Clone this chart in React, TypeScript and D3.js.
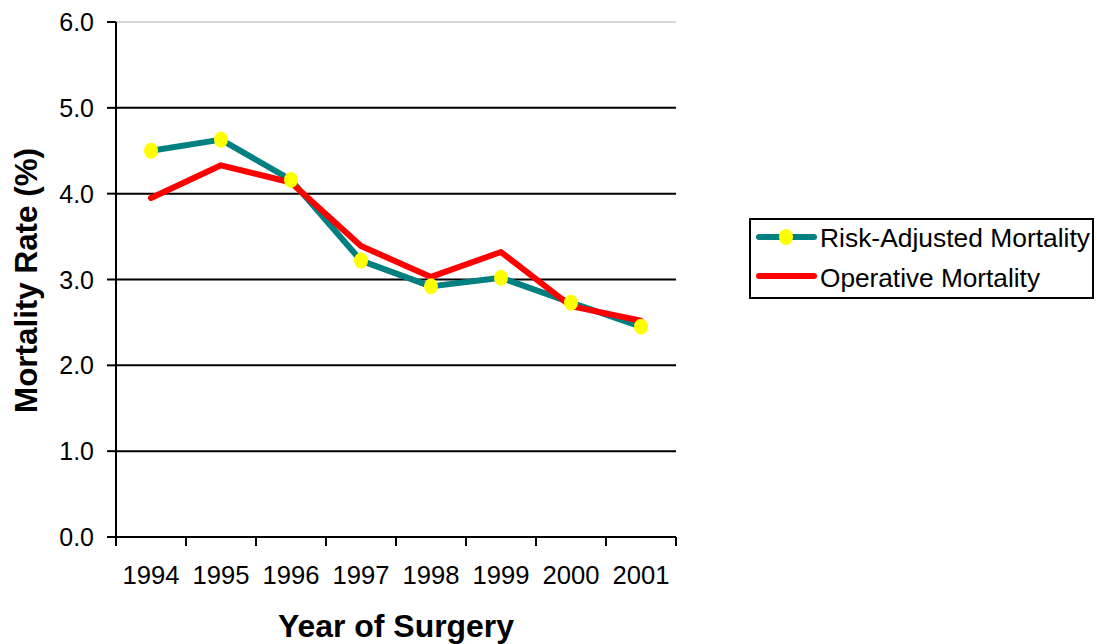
import * as d3 from "d3";

const years = ["1994", "1995", "1996", "1997", "1998", "1999", "2000", "2001"];
const riskAdjusted = [4.5, 4.63, 4.16, 3.22, 2.92, 3.02, 2.73, 2.45];
const operative = [3.95, 4.33, 4.13, 3.39, 3.03, 3.32, 2.69, 2.52];
const yTicks = [0, 1, 2, 3, 4, 5, 6];

export default function App() {
  const width = 1097;
  const height = 644;
  const margin = { top: 22, right: 421, bottom: 107, left: 116 };

  const x = d3
    .scaleBand()
    .domain(years)
    .range([margin.left, width - margin.right]);

  const y = d3
    .scaleLinear()
    .domain([0, 6])
    .range([height - margin.bottom, margin.top]);

  const cx = (yr: string) => x(yr)! + x.bandwidth() / 2;

  const line = d3
    .line<number>()
    .x((_, i) => cx(years[i]))
    .y((d) => y(d));

  const x0 = margin.left;
  const x1 = width - margin.right;
  const yBase = y(0);
  const font = "'Liberation Sans', Arial, sans-serif";

  return (
    <svg
      width={width}
      height={height}
      style={{ position: "absolute", left: 0, top: 0, background: "#fff" }}
    >
      {/* grid */}
      {yTicks.slice(1).map((t) => (
        <line
          key={t}
          x1={x0}
          x2={x1}
          y1={y(t)}
          y2={y(t)}
          stroke={t === 6 ? "#c8c8c8" : "#000"}
          strokeWidth={t === 6 ? 1.5 : 2}
        />
      ))}

      {/* y axis */}
      <line x1={x0} x2={x0} y1={y(6)} y2={yBase} stroke="#000" strokeWidth={2} />
      {yTicks.map((t) => (
        <g key={t}>
          <line x1={x0 - 9} x2={x0} y1={y(t)} y2={y(t)} stroke="#000" strokeWidth={2} />
          <text
            x={94}
            y={y(t)}
            dy="0.36em"
            textAnchor="end"
            fontFamily={font}
            fontSize={25}
          >
            {t.toFixed(1)}
          </text>
        </g>
      ))}

      {/* x axis */}
      <line x1={x0} x2={x1} y1={yBase} y2={yBase} stroke="#000" strokeWidth={2} />
      {[...years.map((yr) => x(yr)!), x1].map((px, i) => (
        <line key={i} x1={px} x2={px} y1={yBase} y2={yBase + 9} stroke="#000" strokeWidth={2} />
      ))}
      {years.map((yr) => (
        <text
          key={yr}
          x={cx(yr)}
          y={584}
          textAnchor="middle"
          fontFamily={font}
          fontSize={26}
          textLength={57}
          lengthAdjust="spacingAndGlyphs"
        >
          {yr}
        </text>
      ))}

      {/* titles */}
      <text
        x={396}
        y={637}
        textAnchor="middle"
        fontFamily={font}
        fontSize={32}
        fontWeight="bold"
        textLength={236}
        lengthAdjust="spacingAndGlyphs"
      >
        Year of Surgery
      </text>
      <text
        transform={`translate(37,280.5) rotate(-90)`}
        textAnchor="middle"
        fontFamily={font}
        fontSize={32}
        fontWeight="bold"
        textLength={265}
        lengthAdjust="spacingAndGlyphs"
      >
        Mortality Rate (%)
      </text>

      {/* series */}
      <path d={line(riskAdjusted)!} fill="none" stroke="#008080" strokeWidth={6} strokeLinejoin="round" />
      <path
        d={line(operative)!}
        fill="none"
        stroke="#ff0000"
        strokeWidth={6}
        strokeLinejoin="round"
        strokeLinecap="round"
      />
      {riskAdjusted.map((v, i) => (
        <ellipse key={i} cx={cx(years[i])} cy={y(v)} rx={7} ry={8} fill="#ffff00" />
      ))}

      {/* legend */}
      <rect x={750} y={219} width={343} height={79} fill="#fff" stroke="#000" strokeWidth={2} />
      <line x1={759} x2={814} y1={237} y2={237} stroke="#008080" strokeWidth={6} strokeLinecap="round" />
      <ellipse cx={786} cy={237} rx={7} ry={8} fill="#ffff00" />
      <text
        x={820}
        y={247}
        fontFamily={font}
        fontSize={26}
        textLength={270}
        lengthAdjust="spacingAndGlyphs"
      >
        Risk-Adjusted Mortality
      </text>
      <line x1={759} x2={814} y1={276} y2={276} stroke="#ff0000" strokeWidth={6} strokeLinecap="round" />
      <text
        x={820}
        y={287}
        fontFamily={font}
        fontSize={26}
        textLength={220}
        lengthAdjust="spacingAndGlyphs"
      >
        Operative Mortality
      </text>
    </svg>
  );
}
